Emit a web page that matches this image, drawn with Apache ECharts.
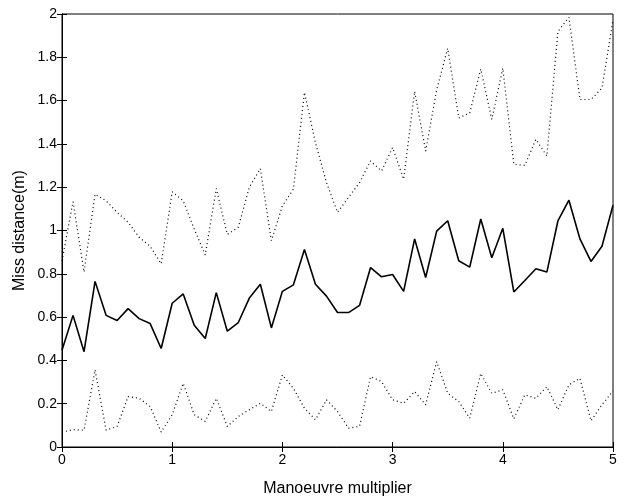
<!DOCTYPE html>
<html>
<head>
<meta charset="utf-8">
<script src="https://cdn.jsdelivr.net/npm/echarts@6/dist/echarts.min.js"></script>
<style>
  html,body{margin:0;padding:0;background:#fff;}
  #chart{width:627px;height:502px;}
</style>
</head>
<body>
<div id="chart"></div>
<script>
// manoeuvre multiplier (x)
var multiplier = [0,0.1,0.2,0.3,0.4,0.5,0.6,0.7,0.8,0.9,1,1.1,1.2,1.3,1.4,1.5,1.6,1.7,1.8,1.9,
  2,2.1,2.2,2.3,2.4,2.5,2.6,2.7,2.8,2.9,3,3.1,3.2,3.3,3.4,3.5,3.6,3.7,3.8,3.9,
  4,4.1,4.2,4.3,4.4,4.5,4.6,4.7,4.8,4.9,5];
// mean miss distance
var meanMiss = [0.447,0.608,0.44,0.765,0.608,0.584,0.639,0.593,0.570,0.455,
  0.664,0.707,0.562,0.501,0.713,0.535,0.575,0.688,0.752,0.550,
  0.719,0.749,0.912,0.752,0.697,0.621,0.621,0.654,0.829,0.786,
  0.797,0.719,0.961,0.783,0.997,1.045,0.860,0.831,1.053,0.874,
  1.010,0.716,0.769,0.823,0.808,1.044,1.140,0.961,0.857,0.927,1.117];
// upper bound
var upperMiss = [0.86,1.133,0.808,1.168,1.137,1.084,1.038,0.969,0.927,0.846,
  1.179,1.137,1.007,0.887,1.194,0.982,1.015,1.2,1.286,0.953,
  1.114,1.191,1.638,1.405,1.221,1.084,1.153,1.221,1.321,1.275,
  1.383,1.237,1.643,1.367,1.65,1.842,1.520,1.543,1.746,1.513,
  1.750,1.306,1.301,1.421,1.344,1.919,1.985,1.605,1.605,1.658,1.972];
// lower bound
var lowerMiss = [0.069,0.080,0.078,0.356,0.078,0.095,0.233,0.225,0.187,0.069,
  0.149,0.294,0.149,0.118,0.225,0.095,0.141,0.172,0.202,0.164,
  0.333,0.271,0.179,0.126,0.218,0.164,0.087,0.095,0.325,0.302,
  0.218,0.202,0.256,0.195,0.394,0.248,0.210,0.133,0.340,0.248,
  0.264,0.13,0.241,0.225,0.279,0.172,0.287,0.317,0.121,0.195,0.259];

function pairs(arr){
  var out=[];
  for(var i=0;i<arr.length;i++){ out.push([multiplier[i],arr[i]]); }
  return out;
}

var myChart = echarts.init(document.getElementById('chart'));
var font = 'Liberation Sans, Arial, sans-serif';
var tick = {show:true,inside:true,length:5,lineStyle:{color:'#000',width:1}};
var option = {
  animation:false,
  grid:{left:62,right:14,top:14,bottom:53,show:true,borderColor:'#000',borderWidth:1,backgroundColor:'#fff'},
  xAxis:[{
    type:'value',min:0,max:5,interval:1,
    name:'Manoeuvre multiplier',nameLocation:'middle',nameGap:34,
    nameTextStyle:{color:'#000',fontSize:16,fontFamily:font},
    axisLine:{show:true,onZero:false,lineStyle:{color:'#000',width:1}},
    axisTick:tick,splitLine:{show:false},
    axisLabel:{color:'#000',fontSize:14,fontFamily:font,margin:6}
  },{
    type:'value',min:0,max:5,interval:1,position:'top',
    axisLine:{show:true,lineStyle:{color:'#000'}},axisTick:tick,
    axisLabel:{show:false},splitLine:{show:false}
  }],
  yAxis:[{
    type:'value',min:0,max:2,interval:0.2,
    name:'Miss distance(m)',nameLocation:'middle',nameGap:34,nameMoveOverlap:false,
    nameTextStyle:{color:'#000',fontSize:16,fontFamily:font},
    axisLine:{show:true,onZero:false,lineStyle:{color:'#000',width:1}},
    axisTick:tick,splitLine:{show:false},
    axisLabel:{color:'#000',fontSize:14,fontFamily:font,margin:5,
      formatter:function(v){return String(Math.round(v*10)/10);}}
  },{
    type:'value',min:0,max:2,interval:0.2,position:'right',
    axisLine:{show:true,lineStyle:{color:'#000'}},axisTick:tick,
    axisLabel:{show:false},splitLine:{show:false}
  }],
  series:[{
    name:'upper',type:'line',data:pairs(upperMiss),showSymbol:false,
    lineStyle:{color:'#000',width:1.2,type:[1,3]}
  },{
    name:'mean',type:'line',data:pairs(meanMiss),showSymbol:false,
    lineStyle:{color:'#000',width:1.6}
  },{
    name:'lower',type:'line',data:pairs(lowerMiss),showSymbol:false,
    lineStyle:{color:'#000',width:1.2,type:[1,3]}
  }]
};
myChart.setOption(option);
</script>
</body>
</html>
